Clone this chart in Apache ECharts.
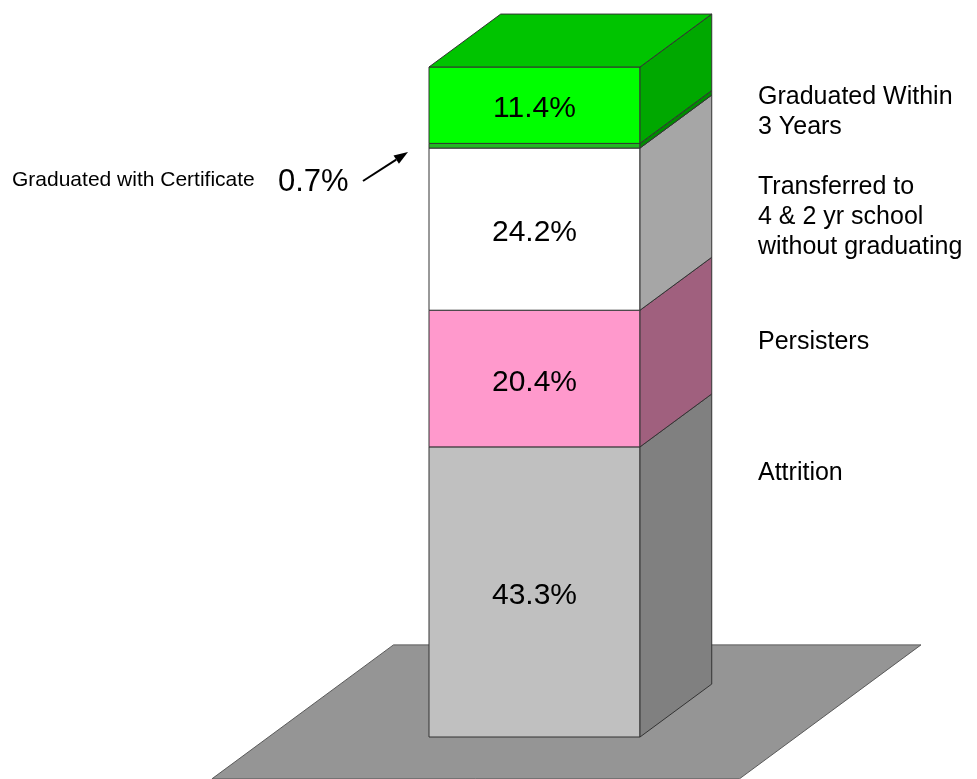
<!DOCTYPE html>
<html>
<head>
<meta charset="utf-8">
<script src="https://cdn.jsdelivr.net/npm/echarts@6/dist/echarts.min.js"></script>
<style>
  html, body { margin: 0; padding: 0; background: #ffffff; }
  #chart { width: 977px; height: 779px; }
</style>
</head>
<body>
<div id="chart"></div>
<script>
// Outcome segments, stacked from the floor upward
const categories = ['Attrition', 'Persisters', 'Transferred to 4 & 2 yr school without graduating', 'Graduated with Certificate', 'Graduated Within 3 Years'];
const values = [43.3, 20.4, 24.2, 0.7, 11.4];
const insideLabel = [true, true, true, false, true];
// Legend-style captions on the right, top to bottom
const sideLabels = ['Graduated Within\n3 Years', 'Transferred to\n4 & 2 yr school\nwithout graduating', 'Persisters', 'Attrition'];
const calloutName = 'Graduated with Certificate';
const calloutValue = values[3];

// Face colours per segment: front, side, top
const frontColors = ['#c0c0c0', '#ff99cc', '#ffffff', '#22b822', '#00ff00'];
const sideColors  = ['#808080', '#a0607e', '#a6a6a6', '#008a00', '#00a800'];
const topColors   = ['#d0d0d0', '#ffb3d9', '#eeeeee', '#00c000', '#00c400'];

// Depth of the column, as a shift along x (bar widths) and along the value axis
const DX = 0.34, DY = 7.9;

// Cumulative stacking
const stackData = [];
let acc = 0;
values.forEach(function (v, i) {
  stackData.push([acc, acc + v, i]);
  acc += v;
});

const chart = echarts.init(document.getElementById('chart'), null, { renderer: 'canvas' });

function pt(api, x, v, d) {
  return api.coord([x + d * DX, v + d * DY]);
}

function renderFloor(params, api) {
  const xl = -0.76, xr = 1.74, df = -0.79, db = 1.74;
  return {
    type: 'polygon',
    shape: { points: [pt(api, xl, 0, df), pt(api, xr, 0, df), pt(api, xr, 0, db), pt(api, xl, 0, db)] },
    style: { fill: '#959595', stroke: '#5a5a5a', lineWidth: 1 },
    silent: true
  };
}

function renderSegment(params, api) {
  const y0 = api.value(0), y1 = api.value(1), i = api.value(2);
  const isTop = i === values.length - 1;
  const children = [];
  const edge = { stroke: '#333333', lineWidth: 1, lineJoin: 'round' };
  children.push({
    type: 'polygon',
    shape: { points: [pt(api, 0, y0, 0), pt(api, 1, y0, 0), pt(api, 1, y1, 0), pt(api, 0, y1, 0)] },
    style: Object.assign({ fill: frontColors[i] }, edge)
  });
  children.push({
    type: 'polygon',
    shape: { points: [pt(api, 1, y0, 0), pt(api, 1, y0, 1), pt(api, 1, y1, 1), pt(api, 1, y1, 0)] },
    style: Object.assign({ fill: sideColors[i] }, edge)
  });
  if (isTop) {
    children.push({
      type: 'polygon',
      shape: { points: [pt(api, 0, y1, 0), pt(api, 1, y1, 0), pt(api, 1, y1, 1), pt(api, 0, y1, 1)] },
      style: Object.assign({ fill: topColors[i] }, edge)
    });
  }
  if (insideLabel[i]) {
    const c = pt(api, 0.5, (y0 + y1) / 2, 0);
    children.push({
      type: 'text',
      x: c[0], y: c[1] + 4,
      style: {
        text: values[i].toFixed(1) + '%',
        fill: '#000000',
        font: '30px "Liberation Sans", Arial, sans-serif',
        align: 'center',
        verticalAlign: 'middle'
      }
    });
  }
  return { type: 'group', children: children };
}

// Arrow from the callout toward the thin certificate band
const tip = [408, 152], tail = [363, 181];
const ux = tip[0] - tail[0], uy = tip[1] - tail[1];
const ul = Math.sqrt(ux * ux + uy * uy);
const u = [ux / ul, uy / ul], n = [-u[1], u[0]];
const base = [tip[0] - 14 * u[0], tip[1] - 14 * u[1]];

const labelFont = '25px "Liberation Sans", Arial, sans-serif';
const sideTops = [82, 172, 327, 458];

const graphics = sideLabels.map(function (t, k) {
  return {
    type: 'text', left: 758, top: sideTops[k],
    style: { text: t, fill: '#000000', font: labelFont, lineHeight: 30 }
  };
});
graphics.push(
  { type: 'text', x: 12, y: 180, style: { text: calloutName, fill: '#000000', font: '21px "Liberation Sans", Arial, sans-serif', verticalAlign: 'middle' } },
  { type: 'text', x: 278, y: 182, style: { text: calloutValue.toFixed(1) + '%', fill: '#000000', font: '31px "Liberation Sans", Arial, sans-serif', verticalAlign: 'middle' } },
  { type: 'line', shape: { x1: tail[0], y1: tail[1], x2: base[0], y2: base[1] }, style: { stroke: '#000000', lineWidth: 2 } },
  { type: 'polygon', shape: { points: [tip, [base[0] + 5 * n[0], base[1] + 5 * n[1]], [base[0] - 5 * n[0], base[1] - 5 * n[1]]] }, style: { fill: '#000000' } }
);

chart.setOption({
  backgroundColor: '#ffffff',
  animation: false,
  grid: { left: 429, right: 337, top: 67, bottom: 42 },
  xAxis: { type: 'value', min: 0, max: 1, show: false },
  yAxis: { type: 'value', min: 0, max: 100, show: false },
  graphic: graphics,
  series: [
    {
      type: 'custom',
      name: 'floor',
      renderItem: renderFloor,
      data: [[0]],
      clip: false,
      z: 1,
      silent: true
    },
    {
      type: 'custom',
      name: 'outcomes',
      renderItem: renderSegment,
      encode: { x: -1, y: [0, 1] },
      data: stackData,
      clip: false,
      z: 2
    }
  ]
});
</script>
</body>
</html>
